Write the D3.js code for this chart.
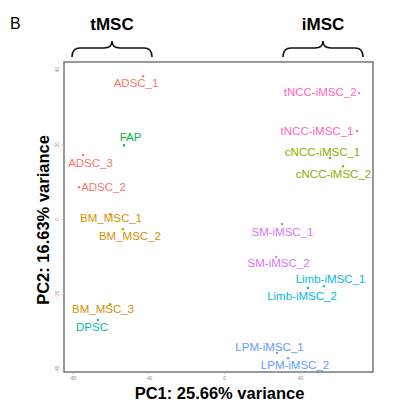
<!DOCTYPE html>
<html><head><meta charset="utf-8">
<script src="https://cdn.jsdelivr.net/npm/d3@7"></script>
<style>body{margin:0;background:#fff}svg{display:block}</style>
</head><body>
<script>
// Data (PC scores)
const samples = ["ADSC_1","FAP","ADSC_3","ADSC_2","BM_MSC_1","BM_MSC_2","BM_MSC_3","DPSC",
  "tNCC-iMSC_2","tNCC-iMSC_1","cNCC-iMSC_1","cNCC-iMSC_2","SM-iMSC_1","SM-iMSC_2",
  "Limb-iMSC_1","Limb-iMSC_2","LPM-iMSC_1","LPM-iMSC_2"];
const groups = ["ADSC","FAP","ADSC","ADSC","BM_MSC","BM_MSC","BM_MSC","DPSC",
  "tNCC","tNCC","cNCC","cNCC","SM","SM","Limb","Limb","LPM","LPM"];
const pc1 = [-42.6,-52.6,-74.2,-76.3,-60.0,-53.2,-60.0,-66.3,71.1,70.0,55.8,62.6,30.5,27.4,52.6,44.2,27.9,33.7];
const pc2 = [38.1,19.7,17.1,8.5,1.3,-2.7,-22.7,-26.9,33.6,23.5,16.3,14.1,-1.3,-10.1,-17.9,-18.4,-35.7,-37.1];
// label placement offsets (repel-style, in px)
const labelDx = [-7,6.5,7.5,24.5,1,7,-7,-6,-39,-40,-7.5,-9.5,0.5,2.5,6.5,-6,-7.5,7];
const labelDy = [7,-8,8,0,4,7,5,7,-1,0,-6,8,8,6,-7,8,-6,7];
const groupNames = ["ADSC","BM_MSC","cNCC","FAP","DPSC","Limb","LPM","SM","tNCC"];
const groupColors = ["#F8766D","#D39200","#93AA00","#00BA38","#00C19F","#00B9E3","#619CFF","#DB72FB","#FF61C3"];
const xTicks = [-80,-40,0,40];
const yTicks = [-40,-20,0,20,40];

const W = 400, H = 414;
const mLeft = 64, mRight = 373, mTop = 62, mBottom = 372;
const svg = d3.select("body").append("svg").attr("width", W).attr("height", H)
  .style("font-family", "'Liberation Sans', Arial, sans-serif");

const x = d3.scaleLinear().domain([-84.2, 78.4]).range([mLeft, mRight]);
const y = d3.scaleLinear().domain([-40.8, 41.9]).range([mBottom, mTop]);
const color = d3.scaleOrdinal().domain(groupNames).range(groupColors);

// panel border
svg.append("rect").attr("x", mLeft).attr("y", mTop).attr("width", mRight - mLeft).attr("height", mBottom - mTop)
  .attr("fill", "none").attr("stroke", "#555").attr("stroke-width", 1.2);

// axes
const xAxis = svg.append("g").attr("transform", `translate(0,${mBottom})`)
  .call(d3.axisBottom(x).tickValues(xTicks).tickSize(2).tickPadding(3));
xAxis.select(".domain").remove();
xAxis.selectAll("line").attr("stroke", "#bbb");
xAxis.selectAll("text").attr("font-size", 4.5).attr("fill", "#888");

const yAxis = svg.append("g").attr("transform", `translate(${mLeft},0)`)
  .call(d3.axisLeft(y).tickValues(yTicks).tickSize(2).tickPadding(3));
yAxis.select(".domain").remove();
yAxis.selectAll("line").attr("stroke", "#bbb");
yAxis.selectAll("text").attr("font-size", 4.5).attr("fill", "#888")
  .attr("text-anchor", "middle").attr("dy", 0)
  .attr("transform", function() { const xx = d3.select(this).attr("x"); return `translate(${+xx - 1},0) rotate(-90)`; })
  .attr("x", 0).attr("y", 0).attr("dominant-baseline", "middle");

// points and labels
const idx = d3.range(samples.length);
svg.append("g").selectAll("circle").data(idx).join("circle")
  .attr("cx", i => x(pc1[i])).attr("cy", i => y(pc2[i])).attr("r", 1.2)
  .attr("fill", i => color(groups[i]));
svg.append("g").selectAll("text").data(idx).join("text")
  .attr("x", i => x(pc1[i]) + labelDx[i]).attr("y", i => y(pc2[i]) + labelDy[i])
  .attr("text-anchor", "middle").attr("dominant-baseline", "central")
  .attr("font-size", 11.5).attr("fill", i => color(groups[i]))
  .text(i => samples[i]);

// axis titles
svg.append("text").attr("x", (mLeft + mRight) / 2 + 1).attr("y", 399).attr("text-anchor", "middle")
  .attr("font-size", 16.5).attr("font-weight", "bold").text("PC1: 25.66% variance");
svg.append("text").attr("transform", `translate(49,${(mTop + mBottom) / 2 + 3}) rotate(-90)`)
  .attr("text-anchor", "middle").attr("font-size", 16.5).attr("font-weight", "bold")
  .text("PC2: 16.63% variance");

// panel letter
svg.append("text").attr("x", 10).attr("y", 29).attr("font-size", 16).text("B");

// brackets
function brace(x0, x1, yb, yt) {
  const m = (x0 + x1) / 2, ym = yb - 9;
  return `M${x0},${yb} Q${x0},${ym} ${x0 + 8},${ym} L${m - 8},${ym} Q${m},${ym} ${m},${yt}` +
         ` Q${m},${ym} ${m + 8},${ym} L${x1 - 8},${ym} Q${x1},${ym} ${x1},${yb}`;
}
const brackets = [{name: "tMSC", x0: 72, x1: 152}, {name: "iMSC", x0: 283, x1: 363}];
brackets.forEach(b => {
  svg.append("path").attr("d", brace(b.x0, b.x1, 57, 41)).attr("fill", "none")
    .attr("stroke", "#111").attr("stroke-width", 1.6);
  svg.append("text").attr("x", (b.x0 + b.x1) / 2).attr("y", 30).attr("text-anchor", "middle")
    .attr("font-size", 17).attr("font-weight", "bold").text(b.name);
});
</script>
</body></html>
